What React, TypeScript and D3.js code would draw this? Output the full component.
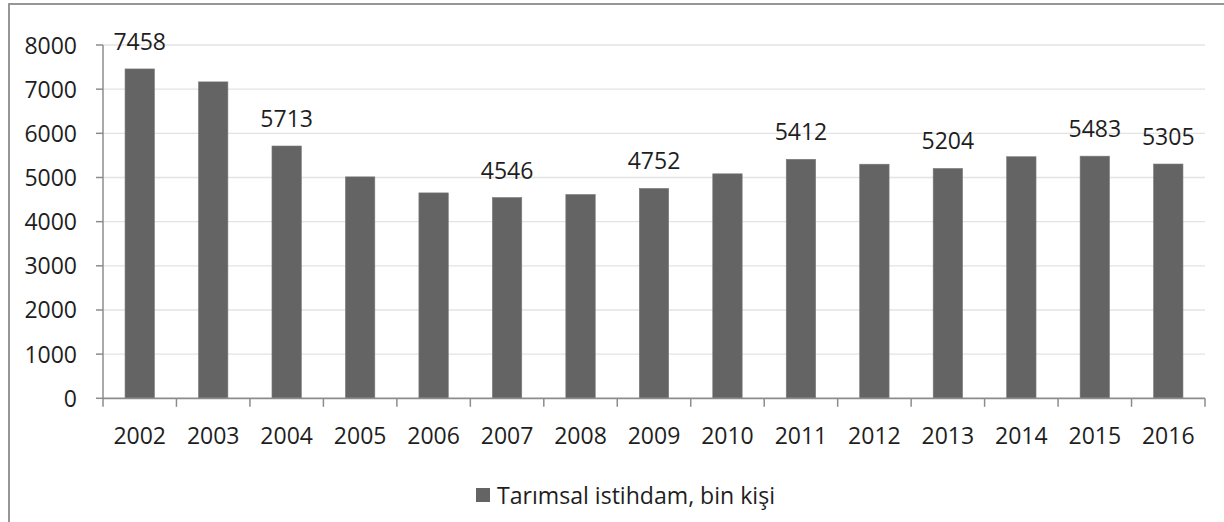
import React from "react";
import * as d3 from "d3";

const years = ["2002","2003","2004","2005","2006","2007","2008","2009","2010","2011","2012","2013","2014","2015","2016"];
const values = [7458,7165,5713,5014,4651,4546,4615,4752,5083,5412,5301,5204,5470,5483,5305];
const labeledYears = ["2002","2004","2007","2009","2011","2013","2015","2016"];
const yTicks = [0,1000,2000,3000,4000,5000,6000,7000,8000];
const seriesName = "Tarımsal istihdam, bin kişi";

const W = 1224, H = 522;
const FONT = "'Open Sans', 'Noto Sans', sans-serif";
const FS = 23;

export default function App() {
  const x = d3.scaleBand<string>().domain(years).range([103, 1205]).paddingInner(0.6).paddingOuter(0.3);
  const xTick = d3.scaleBand<string>().domain(years).range([103, 1205]);
  const y = d3.scaleLinear().domain([0, 8000]).range([398.3, 45]);
  const axisColor = "#8c8c8c";
  const barColor = "#646464";
  const textColor = "#1e1e1e";
  return (
    <svg width={W} height={H} style={{ position: "absolute", left: 0, top: 0 }} fontFamily={FONT}>
      <rect x={0} y={0} width={W} height={H} fill="#fff" />
      <rect x={9} y={4} width={1240} height={560} fill="none" stroke={axisColor} strokeWidth={1.8} />
      {yTicks.filter(t => t > 0).map(t => (
        <line key={"g" + t} x1={103} x2={1205} y1={y(t)} y2={y(t)} stroke="#e3e3e3" strokeWidth={1.3} />
      ))}
      {years.map((yr, i) => (
        <rect key={yr} x={x(yr)!} width={x.bandwidth()} y={y(values[i])} height={y(0) - y(values[i])}
          fill={barColor} stroke="#7a7a7a" strokeWidth={0.6} />
      ))}
      <line x1={103} x2={103} y1={y(8000)} y2={y(0)} stroke={axisColor} strokeWidth={1.5} />
      {yTicks.map(t => (
        <g key={"t" + t}>
          <line x1={96} x2={103} y1={y(t)} y2={y(t)} stroke={axisColor} strokeWidth={1.5} />
          <text x={77} y={y(t) + 8.5} textAnchor="end" fontSize={FS} fill={textColor}>{t}</text>
        </g>
      ))}
      <line x1={103} x2={1205} y1={y(0)} y2={y(0)} stroke={axisColor} strokeWidth={1.8} />
      {years.map(yr => (
        <line key={"xt" + yr} x1={xTick(yr)!} x2={xTick(yr)!} y1={y(0)} y2={y(0) + 8.5} stroke={axisColor} strokeWidth={1.5} />
      ))}
      <line x1={1205} x2={1205} y1={y(0)} y2={y(0) + 8.5} stroke={axisColor} strokeWidth={1.5} />
      {years.map(yr => (
        <text key={"xl" + yr} x={xTick(yr)! + xTick.bandwidth() / 2} y={443.5} textAnchor="middle" fontSize={FS} fill={textColor}>{yr}</text>
      ))}
      {years.map((yr, i) => labeledYears.includes(yr) ? (
        <text key={"dl" + yr} x={x(yr)! + x.bandwidth() / 2} y={y(values[i]) - 19} textAnchor="middle" fontSize={FS} fill={textColor}>{values[i]}</text>
      ) : null)}
      <rect x={476} y={488} width={14} height={14} fill={barColor} />
      <text x={497} y={503.5} fontSize={FS} fill={textColor} textLength={278} lengthAdjust="spacingAndGlyphs">{seriesName}</text>
    </svg>
  );
}
